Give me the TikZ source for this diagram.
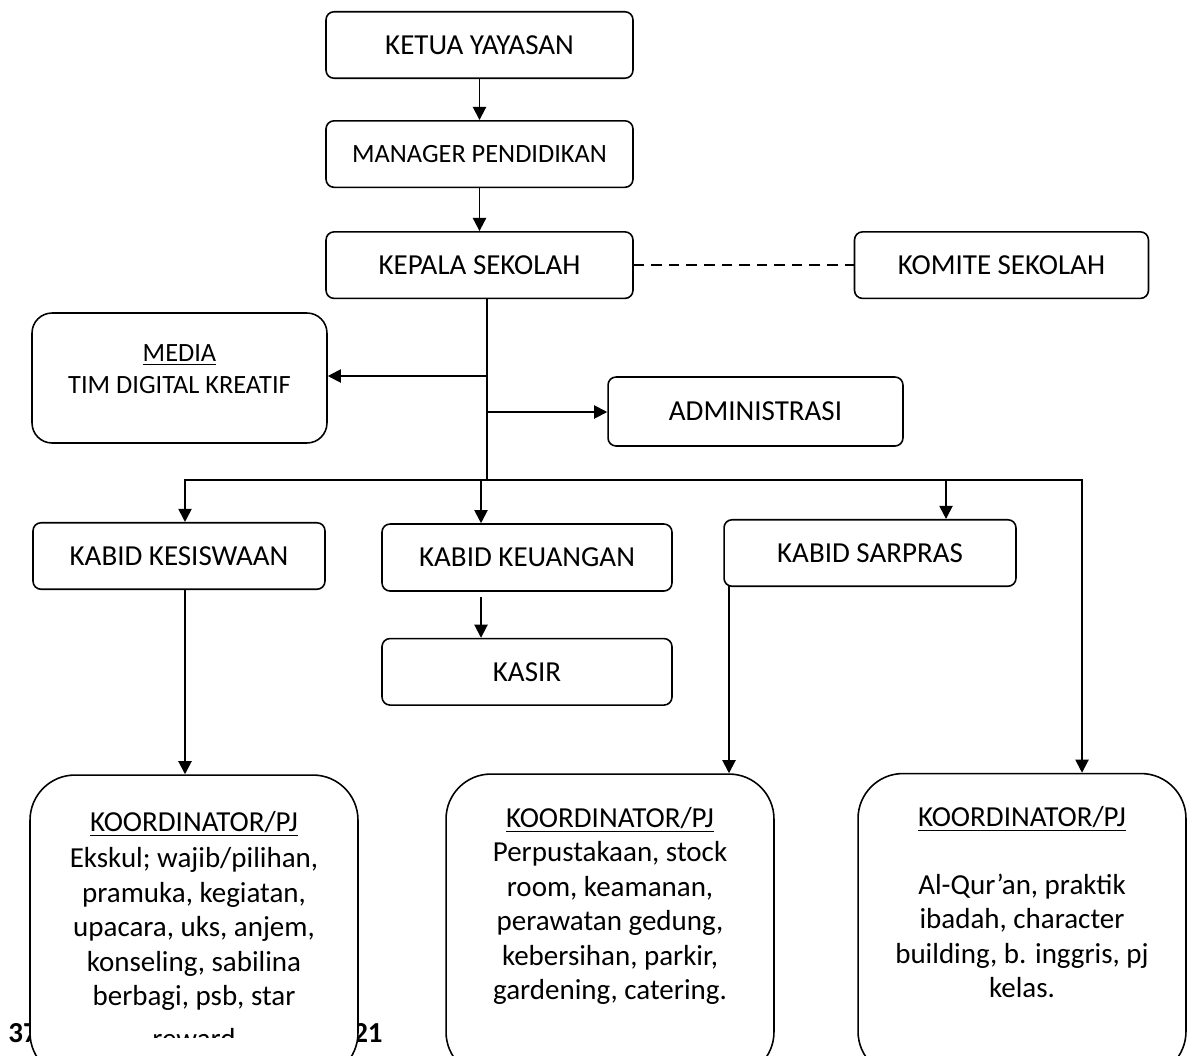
\documentclass[tikz,border=0pt]{standalone}
\usepackage{fontspec}
\setmainfont{Carlito}
\usetikzlibrary{positioning}
\usetikzlibrary{arrows.meta}
\tikzset{>={Triangle[width=7.5pt,length=7.5pt]}}

\begin{document}
\begin{tikzpicture}[x=0.02cm, y=-0.02cm,
    box/.style={rectangle, rounded corners=0.16cm, draw=black, line width=0.9pt, fill=white, minimum width=5.84cm, minimum height=1.33cm, inner sep=0pt, font=\fontsize{16.5}{19.8}\selectfont},
    smallbox/.style={box, font=\fontsize{15}{18}\selectfont},
    koord/.style={rectangle, rounded corners=0.9cm, draw=black, line width=0.9pt, fill=white, minimum width=6.56cm, minimum height=6.06cm},
    koordtext/.style={align=center, inner sep=0pt, font=\fontsize{16.5}{19.6}\selectfont},
    footer/.style={inner sep=0pt, font=\bfseries\fontsize{16.5}{19.8}\selectfont},
    link/.style={line width=1.1pt} ]

    \useasboundingbox (0,0) rectangle (1195,1055);
    \clip (0,0) rectangle (1195,1055);

    %Nodes
    \node[box, minimum width=6.14cm] (ketua) at (479.5,45) {KETUA YAYASAN};
    \node[smallbox, minimum width=6.14cm] (manager) [below=0.82cm of ketua] {MANAGER PENDIDIKAN};
    \node[box, minimum width=6.14cm] (kepala) [below=0.86cm of manager] {KEPALA SEKOLAH};
    \node[box, minimum width=5.88cm] (komite) [right=4.4cm of kepala] {KOMITE SEKOLAH};
    \node[smallbox, minimum width=5.9cm, minimum height=2.6cm, rounded corners=0.4cm, align=center, text depth=10pt] (media) at (179.5,378) {\underline{MEDIA}\\TIM DIGITAL KREATIF};
    \node[box, minimum width=5.9cm, minimum height=1.38cm] (admin) at (755.5,411.5) {ADMINISTRASI};
    \node[box] (kesiswaan) at (179,556) {KABID KESISWAAN};
    \node[box, minimum width=5.8cm, minimum height=1.34cm] (keuangan) at (527,557.5) {KABID KEUANGAN};
    \node[box] (sarpras) at (870,553) {KABID SARPRAS};
    \node[box, minimum width=5.8cm] (kasir) [below=0.92cm of keuangan] {KASIR};

    \node[footer, anchor=west] (page_num) at (8,1033) {37};
    \node[footer, anchor=east] (year_tail) at (383,1033) {21};

    \node[koord] (koord1) at (194,926.5) {};
    \node[koord] (koord2) at (610,925.5) {};
    \node[koord] (koord3) at (1022,925) {};

    \begin{scope}
      \clip (koord1.north west) rectangle (358,1037);
      \node[koordtext, anchor=north] (koord1_text) at (194,811) {\underline{KOORDINATOR/PJ}\\[1pt]
        Ekskul; wajib/pilihan,\\pramuka, kegiatan,\\upacara, uks, anjem,\\konseling, sabilina\\berbagi, psb, star\\[5pt]reward};
    \end{scope}
    \node[koordtext, anchor=north] (koord2_text) at (610,807) {\underline{KOORDINATOR/PJ}\\
      Perpustakaan, stock\\room, keamanan,\\perawatan gedung,\\kebersihan, parkir,\\gardening, catering.};
    \node[koordtext, anchor=north] (koord3_text) at (1022,806) {\underline{KOORDINATOR/PJ}\\[19pt]
      Al-Qur'an, praktik\\ibadah, character\\building, b. inggris, pj\\kelas.};

    \coordinate (trunk_end) at (487,480);
    \coordinate (bus_left) at (185,480);
    \coordinate (bus_right) at (1082,480);
    \coordinate (bus_keu) at (481,480);
    \coordinate (bus_sar) at (946,480);
    \coordinate (media_in) at (487,376);
    \coordinate (admin_out) at (487,412);
    \coordinate (sarpras_out) at (729,586);

    %Lines
    \draw[link, ->] (ketua) -- (manager);
    \draw[link, ->] (manager) -- (kepala);
    \draw[link, dash pattern=on 6pt off 4pt] (kepala.east) -- (komite.west |- kepala.east);
    \draw[link] (kepala.south -| trunk_end) -- (trunk_end);
    \draw[link, ->] (media_in) -- (media.east |- media_in);
    \draw[link, ->] (admin_out) -- (admin.west |- admin_out);
    \draw[link, ->] (trunk_end) -| (bus_left |- kesiswaan.north);
    \draw[link, ->] (trunk_end) -| (bus_right |- koord3.north);
    \draw[link, ->] (bus_keu) -- (bus_keu |- keuangan.north);
    \draw[link, ->] (bus_sar) -- (bus_sar |- sarpras.north);
    \draw[link, ->] (bus_left |- kesiswaan.south) -- (bus_left |- koord1.north);
    \draw[link, ->] ([yshift=-3pt]keuangan.south -| bus_keu) -- (bus_keu |- kasir.north);
    \draw[link, ->] (sarpras_out) -- (sarpras_out |- koord2.north);
\end{tikzpicture}
\end{document}
